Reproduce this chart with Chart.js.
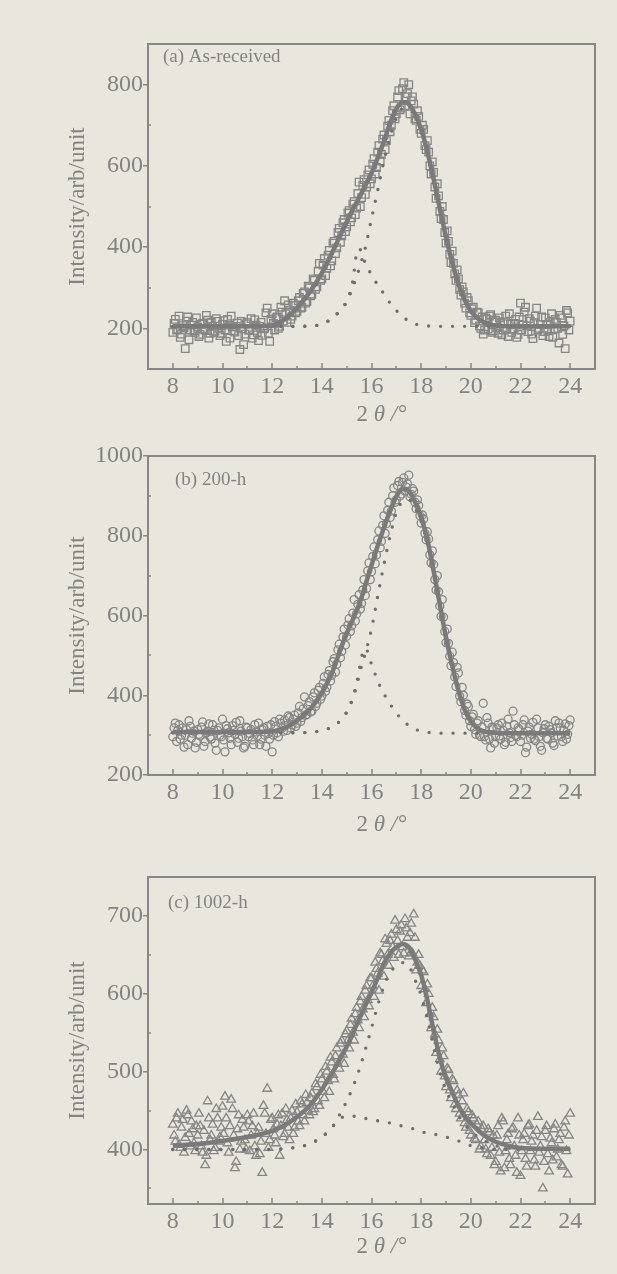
<!DOCTYPE html>
<html>
<head>
<meta charset="utf-8">
<script src="https://cdn.jsdelivr.net/npm/chart.js@4.4.1/dist/chart.umd.min.js"></script>
<style>
  html, body { margin: 0; padding: 0; background: #e9e6dd; }
  #page { position: relative; width: 617px; height: 1274px; overflow: hidden; }
  canvas { position: absolute; left: 0; }
</style>
</head>
<body>
<div id="page">
  <canvas id="chartA" width="617" height="430" style="top:0"></canvas>
  <canvas id="chartB" width="617" height="420" style="top:430px"></canvas>
  <canvas id="chartC" width="617" height="424" style="top:850px"></canvas>
</div>
<script>
// scan angles (2theta, degrees), two interleaved passes
const scanTheta = [
  8.0, 8.1, 8.2, 8.3, 8.4, 8.5, 8.6, 8.7, 8.8, 8.9,
  9.0, 9.1, 9.2, 9.3, 9.4, 9.5, 9.6, 9.7, 9.8, 9.9,
  10.0, 10.1, 10.2, 10.3, 10.4, 10.5, 10.6, 10.7, 10.8, 10.9,
  11.0, 11.1, 11.2, 11.3, 11.4, 11.5, 11.6, 11.7, 11.8, 11.9,
  12.0, 12.1, 12.2, 12.3, 12.4, 12.5, 12.6, 12.7, 12.8, 12.9,
  13.0, 13.1, 13.2, 13.3, 13.4, 13.5, 13.6, 13.7, 13.8, 13.9,
  14.0, 14.1, 14.2, 14.3, 14.4, 14.5, 14.6, 14.7, 14.8, 14.9,
  15.0, 15.1, 15.2, 15.3, 15.4, 15.5, 15.6, 15.7, 15.8, 15.9,
  16.0, 16.1, 16.2, 16.3, 16.4, 16.5, 16.6, 16.7, 16.8, 16.9,
  17.0, 17.1, 17.2, 17.3, 17.4, 17.5, 17.6, 17.7, 17.8, 17.9,
  18.0, 18.1, 18.2, 18.3, 18.4, 18.5, 18.6, 18.7, 18.8, 18.9,
  19.0, 19.1, 19.2, 19.3, 19.4, 19.5, 19.6, 19.7, 19.8, 19.9,
  20.0, 20.1, 20.2, 20.3, 20.4, 20.5, 20.6, 20.7, 20.8, 20.9,
  21.0, 21.1, 21.2, 21.3, 21.4, 21.5, 21.6, 21.7, 21.8, 21.9,
  22.0, 22.1, 22.2, 22.3, 22.4, 22.5, 22.6, 22.7, 22.8, 22.9,
  23.0, 23.1, 23.2, 23.3, 23.4, 23.5, 23.6, 23.7, 23.8, 23.9,
  24.0
];
const scanTheta2 = [
  8.05, 8.15, 8.25, 8.35, 8.45, 8.55, 8.65, 8.75, 8.85, 8.95,
  9.05, 9.15, 9.25, 9.35, 9.45, 9.55, 9.65, 9.75, 9.85, 9.95,
  10.05, 10.15, 10.25, 10.35, 10.45, 10.55, 10.65, 10.75, 10.85, 10.95,
  11.05, 11.15, 11.25, 11.35, 11.45, 11.55, 11.65, 11.75, 11.85, 11.95,
  12.05, 12.15, 12.25, 12.35, 12.45, 12.55, 12.65, 12.75, 12.85, 12.95,
  13.05, 13.15, 13.25, 13.35, 13.45, 13.55, 13.65, 13.75, 13.85, 13.95,
  14.05, 14.15, 14.25, 14.35, 14.45, 14.55, 14.65, 14.75, 14.85, 14.95,
  15.05, 15.15, 15.25, 15.35, 15.45, 15.55, 15.65, 15.75, 15.85, 15.95,
  16.05, 16.15, 16.25, 16.35, 16.45, 16.55, 16.65, 16.75, 16.85, 16.95,
  17.05, 17.15, 17.25, 17.35, 17.45, 17.55, 17.65, 17.75, 17.85, 17.95,
  18.05, 18.15, 18.25, 18.35, 18.45, 18.55, 18.65, 18.75, 18.85, 18.95,
  19.05, 19.15, 19.25, 19.35, 19.45, 19.55, 19.65, 19.75, 19.85, 19.95,
  20.05, 20.15, 20.25, 20.35, 20.45, 20.55, 20.65, 20.75, 20.85, 20.95,
  21.05, 21.15, 21.25, 21.35, 21.45, 21.55, 21.65, 21.75, 21.85, 21.95,
  22.05, 22.15, 22.25, 22.35, 22.45, 22.55, 22.65, 22.75, 22.85, 22.95,
  23.05, 23.15, 23.25, 23.35, 23.45, 23.55, 23.65, 23.75, 23.85, 23.95
];

// angles for the fitted curves
const fitTheta = [
  8, 9, 10, 11, 12, 12.5, 13, 13.5, 14, 14.25, 14.5, 14.75, 15, 15.25, 15.4,
  15.5, 15.6, 15.75, 16, 16.25, 16.5, 16.75, 17, 17.25, 17.5, 17.75, 18, 18.25,
  18.5, 18.75, 19, 19.25, 19.5, 19.75, 20, 20.25, 20.5, 20.75, 21, 21.5, 22, 23, 24
];

// (a) as-received
const countsA = [
  190, 222, 198, 178, 207, 150, 228, 196, 215, 190,
  203, 185, 212, 196, 220, 188, 205, 193, 217, 182,
  210, 196, 222, 176, 204, 191, 213, 148, 199, 186,
  214, 197, 176, 221, 190, 205, 183, 200, 250, 168,
  236, 196, 228, 205, 240, 268, 215, 244, 230, 256,
  242, 276, 252, 290, 266, 300, 284, 318, 302, 360,
  322, 372, 348, 392, 366, 414, 398, 446, 428, 468,
  450, 490, 472, 512, 496, 560, 522, 566, 548, 590,
  568, 618, 596, 650, 628, 676, 662, 712, 700, 748,
  728, 785, 742, 805, 770, 800, 760, 752, 712, 722,
  680, 690, 640, 634, 580, 584, 520, 526, 470, 468,
  410, 414, 362, 360, 318, 322, 282, 290, 250, 268,
  232, 252, 220, 238, 200, 186, 226, 198, 234, 194,
  220, 188, 214, 196, 230, 180, 210, 199, 222, 185,
  262, 208, 252, 192, 218, 175, 230, 196, 210, 182,
  226, 194, 214, 178, 222, 200, 232, 185, 150, 238,
  218
];
const countsA2 = [
  212, 196, 230, 186, 201, 218, 172, 208, 194, 226,
  180, 210, 199, 232, 176, 214, 190, 224, 200, 188,
  219, 168, 208, 230, 193, 205, 182, 217, 160, 211,
  195, 224, 184, 208, 170, 215, 199, 238, 188, 222,
  212, 226, 200, 252, 218, 236, 258, 222, 262, 238,
  268, 250, 286, 262, 304, 280, 322, 296, 340, 318,
  356, 330, 380, 354, 410, 384, 436, 412, 460, 438,
  484, 462, 506, 480, 532, 500, 552, 530, 578, 556,
  604, 580, 634, 612, 666, 640, 698, 684, 736, 716,
  770, 738, 790, 748, 778, 728, 770, 716, 736, 690,
  700, 650, 662, 600, 610, 548, 556, 488, 500, 436,
  440, 382, 390, 334, 344, 296, 302, 262, 276, 238,
  248, 214, 240, 206, 228, 196, 222, 230, 190, 216,
  202, 226, 184, 216, 198, 236, 190, 212, 178, 228,
  196, 240, 206, 224, 186, 214, 250, 200, 228, 192,
  210, 180, 236, 198, 214, 164, 226, 206, 244, 196
];
const fitA = [
  205, 205, 205, 205, 207, 222, 250, 288, 336, 365, 397, 430, 462, 493, 510,
  522, 534, 552, 582, 620, 660, 705, 740, 757, 752, 728, 690, 635,
  568, 495, 425, 362, 310, 270, 243, 226, 216, 210, 207, 205, 205, 205, 205
];
const peak1A = [
  205, 205, 205, 205, 205, 205, 205, 206, 210, 218, 229, 245, 266, 318, 385,
  396, 388, 360, 332, 307, 285, 262, 244, 229, 218, 211, 208, 206,
  205, 205, 205, 205, 205, 205, 205, 205, 205, 205, 205, 205, 205, 205, 205
];
const peak2A = [
  205, 205, 205, 205, 205, 205, 205, 206, 210, 218, 229, 245, 266, 301, 328,
  346, 366, 398, 470, 540, 612, 672, 718, 740, 740, 720, 686, 633,
  567, 494, 425, 362, 310, 270, 243, 226, 216, 210, 207, 205, 205, 205, 205
];

// (b) 200 h
const countsB = [
  296, 330, 312, 290, 318, 300, 276, 322, 305, 268,
  314, 298, 333, 284, 310, 295, 326, 280, 312, 300,
  340, 258, 316, 292, 324, 302, 282, 336, 296, 272,
  318, 304, 288, 326, 298, 276, 314, 300, 322, 290,
  258, 334, 306, 340, 318, 338, 312, 344, 326, 350,
  330, 372, 344, 396, 352, 384, 360, 406, 380, 420,
  398, 446, 420, 462, 450, 492, 478, 528, 510, 566,
  548, 592, 574, 640, 604, 652, 630, 690, 668, 732,
  710, 772, 752, 812, 786, 850, 830, 884, 862, 920,
  890, 936, 905, 945, 922, 952, 904, 912, 868, 876,
  832, 842, 790, 792, 732, 728, 664, 660, 598, 596,
  532, 530, 474, 482, 422, 456, 384, 400, 350, 372,
  322, 352, 302, 336, 296, 380, 288, 330, 268, 318,
  296, 326, 290, 312, 282, 340, 294, 360, 300, 318,
  284, 326, 256, 310, 292, 332, 286, 318, 272, 306,
  326, 290, 314, 280, 336, 298, 318, 284, 328, 302,
  338
];
const countsB2 = [
  318, 284, 326, 300, 270, 314, 336, 292, 310, 282,
  302, 320, 272, 306, 328, 290, 312, 262, 318, 296,
  288, 324, 306, 276, 312, 332, 292, 310, 268, 320,
  296, 314, 276, 308, 330, 290, 318, 272, 304, 326,
  300, 322, 296, 330, 310, 324, 348, 318, 340, 322,
  356, 334, 366, 350, 374, 358, 396, 372, 412, 390,
  430, 410, 452, 436, 484, 458, 514, 494, 546, 526,
  576, 560, 606, 586, 628, 616, 664, 650, 712, 690,
  748, 730, 790, 770, 826, 806, 864, 846, 900, 884,
  926, 900, 934, 912, 930, 898, 918, 884, 890, 850,
  852, 806, 810, 752, 762, 690, 700, 624, 640, 560,
  566, 498, 508, 446, 470, 398, 420, 362, 378, 336,
  346, 314, 330, 300, 320, 296, 344, 290, 320, 280,
  318, 298, 330, 276, 322, 306, 284, 326, 296, 314,
  300, 338, 270, 320, 302, 290, 340, 296, 262, 316,
  292, 322, 306, 274, 318, 330, 296, 312, 290, 324
];
const fitB = [
  308, 308, 308, 308, 309, 318, 336, 363, 405, 435, 470, 515, 555, 590, 612,
  628, 645, 676, 726, 775, 820, 862, 898, 917, 912, 885, 846, 790,
  712, 628, 545, 474, 412, 364, 334, 318, 310, 307, 306, 305, 305, 305, 305
];
const peak1B = [
  306, 306, 306, 306, 306, 306, 306, 307, 311, 316, 324, 337, 358, 395, 430,
  462, 496, 518, 478, 436, 404, 378, 355, 338, 324, 315, 310, 307,
  306, 305, 305, 305, 305, 305, 305, 305, 305, 305, 305, 305, 305, 305, 305
];
const peak2B = [
  306, 306, 306, 306, 306, 306, 306, 307, 311, 316, 324, 337, 358, 392, 424,
  448, 474, 505, 566, 648, 728, 800, 858, 886, 890, 870, 836, 784,
  708, 626, 544, 474, 412, 364, 334, 318, 310, 307, 306, 305, 305, 305, 305
];

// (c) 1002 h
const countsC = [
  432, 410, 446, 402, 438, 415, 444, 404, 426, 398,
  418, 430, 396, 380, 462, 412, 432, 402, 440, 416,
  455, 468, 408, 430, 452, 376, 426, 400, 438, 412,
  444, 398, 430, 404, 420, 394, 370, 446, 478, 412,
  440, 418, 432, 392, 446, 420, 438, 412, 450, 428,
  448, 430, 458, 436, 460, 444, 472, 452, 480, 456,
  490, 466, 500, 474, 512, 490, 530, 504, 540, 510,
  552, 530, 568, 540, 582, 556, 596, 570, 610, 584,
  620, 596, 632, 604, 650, 622, 664, 636, 676, 646,
  682, 650, 688, 652, 684, 648, 690, 702, 630, 650,
  610, 628, 588, 600, 556, 570, 524, 540, 500, 520,
  480, 502, 466, 488, 452, 470, 440, 472, 428, 448,
  418, 440, 412, 436, 404, 430, 400, 426, 392, 418,
  384, 430, 372, 436, 398, 420, 380, 428, 392, 440,
  366, 412, 388, 430, 398, 418, 378, 442, 404, 350,
  424, 394, 414, 386, 432, 400, 420, 378, 436, 368,
  446
];
const countsC2 = [
  418, 440, 406, 428, 396, 450, 420, 436, 408, 430,
  446, 404, 424, 392, 440, 418, 398, 452, 410, 428,
  420, 440, 396, 464, 418, 384, 444, 410, 428, 400,
  436, 418, 446, 392, 428, 410, 456, 420, 402, 438,
  426, 408, 444, 430, 416, 452, 428, 440, 420, 458,
  436, 462, 444, 470, 450, 466, 448, 484, 462, 496,
  474, 506, 488, 518, 496, 520, 510, 536, 522, 548,
  540, 560, 550, 574, 566, 590, 580, 604, 592, 620,
  610, 640, 626, 652, 642, 670, 650, 668, 660, 694,
  668, 680, 660, 696, 672, 678, 652, 672, 640, 636,
  630, 606, 612, 574, 582, 548, 554, 516, 530, 494,
  504, 476, 490, 458, 476, 446, 462, 434, 452, 424,
  444, 414, 432, 400, 426, 412, 394, 422, 402, 380,
  418, 396, 440, 376, 412, 388, 426, 404, 370, 418,
  398, 420, 378, 432, 410, 386, 424, 396, 416, 384,
  430, 372, 408, 426, 390, 412, 380, 428, 398, 418
];
const fitC = [
  405, 407, 411, 416, 424, 431, 442, 456, 477, 490, 503, 517, 532, 549, 560,
  567, 574, 585, 602, 620, 639, 652, 660, 664, 660, 645, 624, 592,
  553, 518, 492, 474, 456, 443, 434, 426, 419, 414, 410, 405, 402, 401, 401
];
const peak1C = [
  400, 400, 400, 400, 400, 401, 403, 407, 416, 423, 432, 440, 443, 443, 442,
  442, 441, 440, 439, 437, 436, 434, 432, 430, 428, 426, 423, 421,
  420, 418, 416, 414, 411, 408, 405, 403, 402, 401, 400, 400, 400, 400, 400
];
const peak2C = [
  400, 400, 400, 400, 400, 401, 403, 407, 416, 423, 432, 447, 462, 480, 493,
  502, 512, 528, 556, 585, 610, 627, 636, 640, 636, 618, 598, 568,
  532, 500, 476, 460, 444, 432, 424, 417, 412, 408, 405, 402, 401, 400, 400
];

// axis ticks
const xTicks = [8, 10, 12, 14, 16, 18, 20, 22, 24];
const xMinorTicks = [9, 11, 13, 15, 17, 19, 21, 23];
const yTicksA = [200, 400, 600, 800];
const yMinorA = [300, 500, 700];
const yTicksB = [200, 400, 600, 800, 1000];
const yMinorB = [300, 500, 700, 900];
const yTicksC = [400, 500, 600, 700];
const yMinorC = [350, 450, 550, 650];

const axisGray = '#878787';
const textGray = '#838383';
const markGray = '#868686';
const lineGray = '#7a7a7a';
const dotGray = '#6e6e6e';
const serif = '"Liberation Serif", "Times New Roman", serif';

const pairs = (xs, ys) => xs.map((x, i) => ({ x: x, y: ys[i] }));

// frame, inward ticks, panel caption and the 2theta label
const frameTicks = {
  id: 'frameTicks',
  afterDraw(chart, args, o) {
    const { ctx, chartArea: { left, right, top, bottom }, scales: { x, y } } = chart;
    ctx.save();
    ctx.strokeStyle = axisGray;
    ctx.lineWidth = 2;
    ctx.strokeRect(left, top, right - left, bottom - top);

    ctx.lineWidth = 1.5;
    ctx.beginPath();
    xTicks.forEach(v => {
      const px = Math.round(x.getPixelForValue(v));
      ctx.moveTo(px, bottom);
      ctx.lineTo(px, bottom - 6);
    });
    xMinorTicks.forEach(v => {
      const px = Math.round(x.getPixelForValue(v));
      ctx.moveTo(px, bottom);
      ctx.lineTo(px, bottom - 3);
    });
    o.minor.forEach(v => {
      const py = Math.round(y.getPixelForValue(v));
      ctx.moveTo(left, py);
      ctx.lineTo(left + 3, py);
    });
    ctx.stroke();

    ctx.fillStyle = textGray;
    ctx.textBaseline = 'middle';
    ctx.textAlign = 'left';
    ctx.font = '19px ' + serif;
    ctx.fillText(o.label, o.labelX, top + o.labelDy);

    // 2θ/° under the x axis
    const parts = [['2 ', '23px ' + serif], ['θ /°', 'italic 23px ' + serif]];
    let total = 0;
    parts.forEach(p => { ctx.font = p[1]; total += ctx.measureText(p[0]).width; });
    let tx = (left + right) / 2 + 10 - total / 2;
    parts.forEach(p => {
      ctx.font = p[1];
      ctx.fillText(p[0], tx, bottom + o.titleDy);
      tx += ctx.measureText(p[0]).width;
    });
    ctx.restore();
  }
};

const scanSet = (xs, ys, p) => ({
  data: pairs(xs, ys), pointStyle: p.marker, pointRadius: p.radius,
  pointBorderColor: markGray, pointBackgroundColor: 'rgba(0,0,0,0)',
  pointBorderWidth: 1.3, order: 3
});

const dottedSet = ys => ({
  data: pairs(fitTheta, ys), showLine: true, borderColor: dotGray,
  borderWidth: 3.4, borderDash: [0, 12], borderCapStyle: 'round',
  pointRadius: 0, cubicInterpolationMode: 'monotone', order: 1
});

const makeChart = (id, p) => {
  const ctx = document.getElementById(id).getContext('2d');
  return new Chart(ctx, {
    type: 'scatter',
    data: {
      datasets: [
        {
          data: pairs(fitTheta, p.fit), showLine: true, borderColor: lineGray,
          borderWidth: 4.5, pointRadius: 0, cubicInterpolationMode: 'monotone', order: 0
        },
        dottedSet(p.peak1),
        dottedSet(p.peak2),
        scanSet(scanTheta, p.counts, p),
        scanSet(scanTheta2, p.counts2, p)
      ]
    },
    options: {
      responsive: false,
      animation: false,
      events: [],
      layout: { padding: { top: p.areaTop, right: 22, bottom: 0, left: 0 } },
      plugins: {
        legend: { display: false },
        tooltip: { enabled: false },
        frameTicks: { minor: p.yMinor, label: p.label, labelX: p.labelX, labelDy: p.labelDy, titleDy: p.titleDy }
      },
      scales: {
        x: {
          type: 'linear', min: 7, max: 25,
          afterBuildTicks: s => { s.ticks = xTicks.map(v => ({ value: v })); },
          afterFit: s => { s.height = p.xAxisHeight; },
          grid: { display: false, drawTicks: false },
          border: { display: false },
          ticks: {
            color: textGray, font: { family: serif, size: 24 }, padding: 3,
            maxRotation: 0, autoSkip: false, callback: v => String(v)
          }
        },
        y: {
          type: 'linear', min: p.yMin, max: p.yMax,
          afterBuildTicks: s => { s.ticks = p.yTicks.map(v => ({ value: v })); },
          afterFit: s => { s.width = 148; },
          grid: { drawOnChartArea: false, drawTicks: true, tickLength: 5, color: axisGray, lineWidth: 1.5 },
          border: { display: false },
          ticks: {
            color: textGray, font: { family: serif, size: 24 }, padding: 0,
            autoSkip: false, callback: v => String(v)
          },
          title: {
            display: true, text: 'Intensity/arb/unit', color: textGray,
            font: { family: serif, size: 23 }, padding: { top: 64, bottom: 0 }
          }
        }
      }
    },
    plugins: [frameTicks]
  });
};

makeChart('chartA', {
  counts: countsA, counts2: countsA2, fit: fitA, peak1: peak1A, peak2: peak2A,
  marker: 'rect', radius: 5.3, yMin: 100, yMax: 900, yTicks: yTicksA, yMinor: yMinorA,
  areaTop: 44, xAxisHeight: 61, label: '(a) As-received', labelX: 163, labelDy: 13, titleDy: 46
});
makeChart('chartB', {
  counts: countsB, counts2: countsB2, fit: fitB, peak1: peak1B, peak2: peak2B,
  marker: 'circle', radius: 4, yMin: 200, yMax: 1000, yTicks: yTicksB, yMinor: yMinorB,
  areaTop: 26, xAxisHeight: 75, label: '(b) 200-h', labelX: 175, labelDy: 24, titleDy: 50
});
makeChart('chartC', {
  counts: countsC, counts2: countsC2, fit: fitC, peak1: peak1C, peak2: peak2C,
  marker: 'triangle', radius: 5, yMin: 330, yMax: 750, yTicks: yTicksC, yMinor: yMinorC,
  areaTop: 27, xAxisHeight: 70, label: '(c) 1002-h', labelX: 168, labelDy: 26, titleDy: 43
});
</script>
</body>
</html>
